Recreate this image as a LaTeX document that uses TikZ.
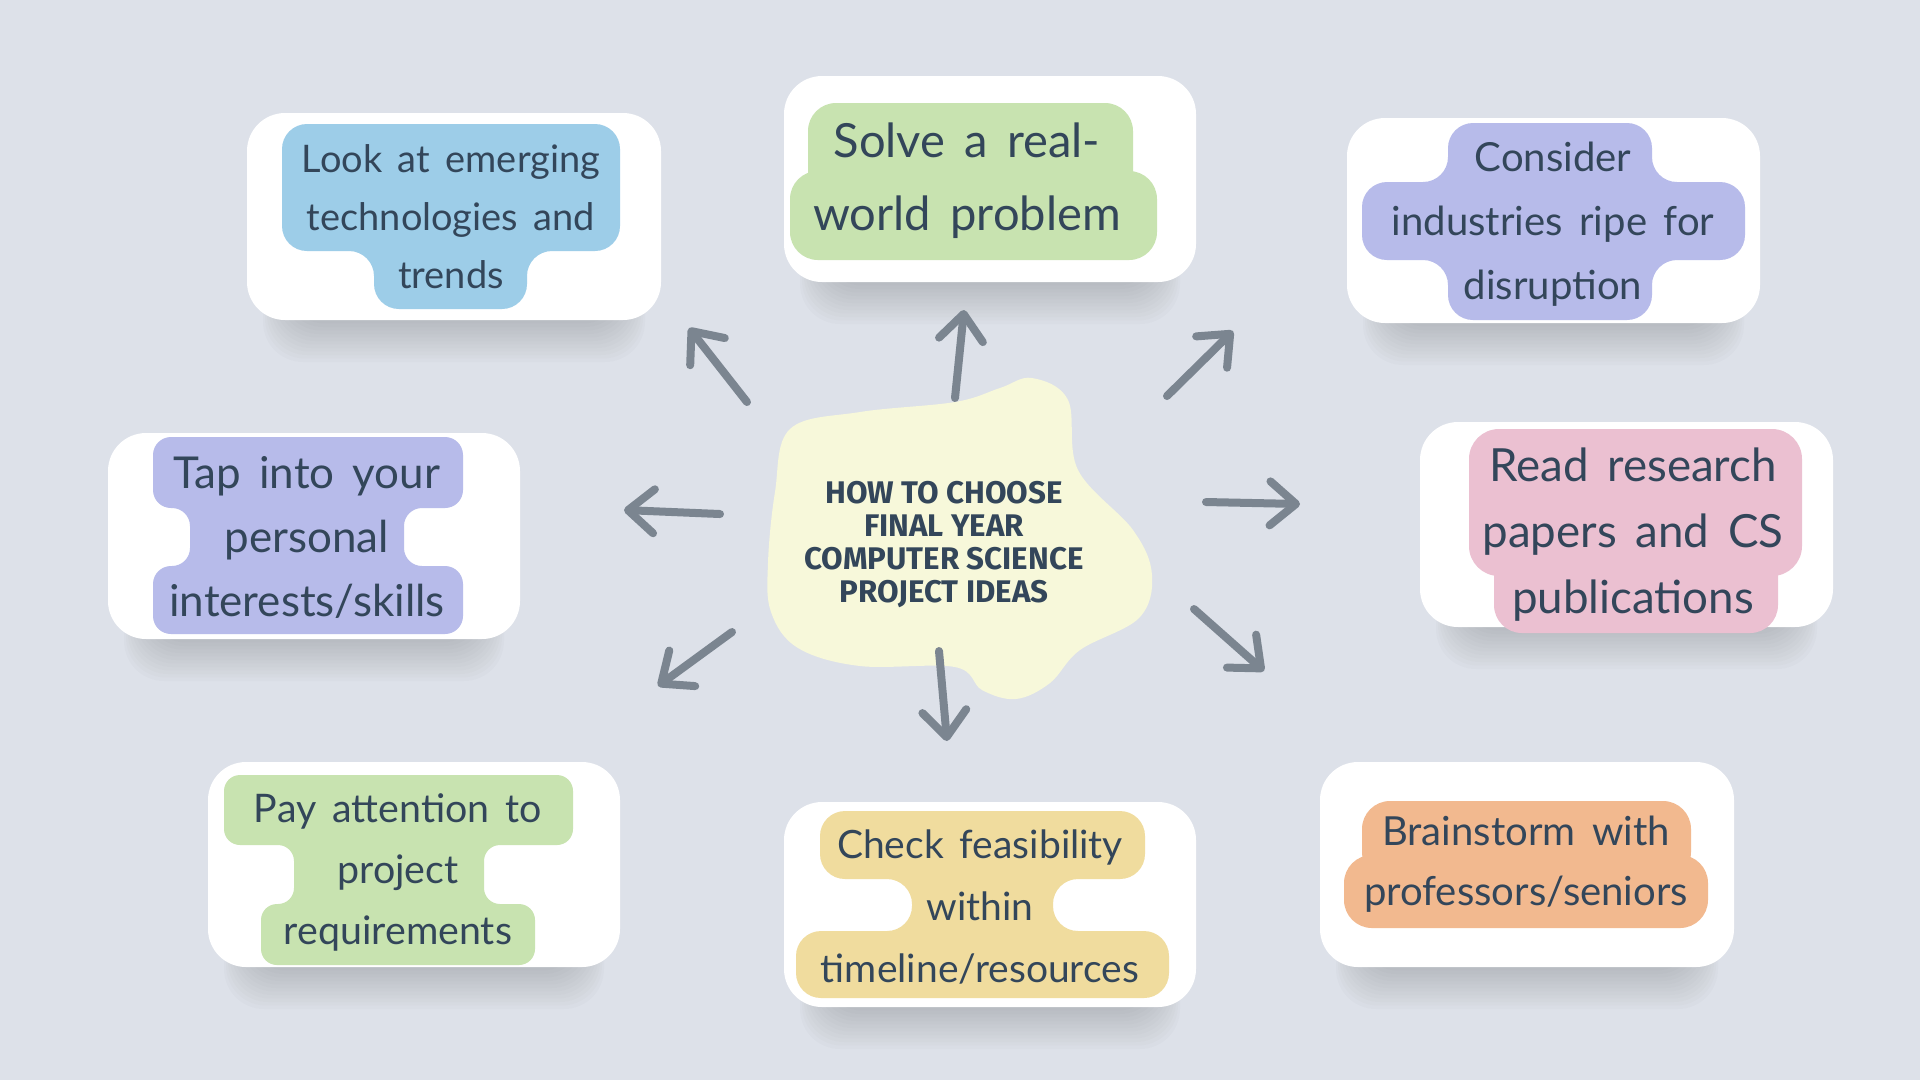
\documentclass[tikz,border=0pt]{standalone}
\usepackage{fontspec}
\setmainfont{Lato}[WordSpace=1.6]
\newfontfamily\titlefont{Fira Sans}
\usetikzlibrary{arrows.meta}
\definecolor{bg}{HTML}{DDE1E9}
\definecolor{ink}{HTML}{33465A}
\definecolor{arrowc}{HTML}{7B8590}
\definecolor{cblue}{HTML}{9DCDE8}
\definecolor{cgreen}{HTML}{C8E3B0}
\definecolor{cpurple}{HTML}{B7BBEA}
\definecolor{cpink}{HTML}{EBC0D1}
\definecolor{cyellow}{HTML}{F0DC9E}
\definecolor{corange}{HTML}{F2B98F}
\definecolor{cblob}{HTML}{F7F8DA}
\newcommand\whitebox[4]{%
  \foreach \k in {1,...,12}{%
    \fill[black!70!bg, opacity=0.018, rounded corners=4mm]
      (#1+40-\k*2, #2+40) rectangle (#3-40+\k*2, #4+\k*3.5);}
  \fill[white, rounded corners=3.8mm] (#1,#2) rectangle (#3,#4);}
\begin{document}
\begin{tikzpicture}[x=0.1mm, y=-0.1mm,
  lbl/.style={text=ink, align=center, inner sep=0pt},
  arr/.style={draw=arrowc, line width=0.8mm, line cap=round,
    -{Straight Barb[round, length=2.6mm, width=4.4mm]}}]
\fill[bg] (0,0) rectangle (1920,1080);
\useasboundingbox (0,0) rectangle (1920,1080);

% white cards
\whitebox{247}{113}{661}{320}
\whitebox{784}{76}{1196}{282}
\whitebox{1347}{118}{1760}{323}
\whitebox{108}{433}{520}{639}
\whitebox{1420}{422}{1833}{627}
\whitebox{208}{762}{620}{967}
\whitebox{784}{802}{1196}{1007}
\whitebox{1320}{762}{1734}{967}

% coloured shapes
\fill[cblue, rounded corners=2.5mm] (282,124) -- (620,124) -- (620,251) -- (527,251)
  -- (527,309) -- (374,309) -- (374,251) -- (282,251) -- cycle;
\fill[cgreen, rounded corners=2.8mm] (808,103) rectangle (1133,200);
\fill[cgreen, rounded corners=2.8mm] (790,171) rectangle (1157,260);
\fill[cpurple, rounded corners=2.5mm] (1448,123) -- (1652,123) -- (1652,182) -- (1745,182)
  -- (1745,260) -- (1652,260) -- (1652,320) -- (1448,320) -- (1448,260) -- (1362,260)
  -- (1362,182) -- (1448,182) -- cycle;
\fill[cpurple, rounded corners=1.8mm] (153,437) -- (463,437) -- (463,508) -- (404,508)
  -- (404,566) -- (463,566) -- (463,634) -- (153,634) -- (153,566) -- (190,566)
  -- (190,508) -- (153,508) -- cycle;
\fill[cpink, rounded corners=3mm] (1469,429) rectangle (1802,576);
\fill[cpink, rounded corners=2.8mm] (1494,540) rectangle (1778,633);
\fill[cgreen, rounded corners=1.6mm] (224,775) -- (573,775) -- (573,845) -- (484,845)
  -- (484,904) -- (535,904) -- (535,965) -- (261,965) -- (261,904) -- (294,904)
  -- (294,845) -- (224,845) -- cycle;
\fill[cyellow, rounded corners=2.5mm] (820,811) -- (1145,811) -- (1145,879) -- (1053,879)
  -- (1053,931) -- (1169,931) -- (1169,998) -- (796,998) -- (796,931) -- (912,931)
  -- (912,879) -- (820,879) -- cycle;
\fill[corange, rounded corners=2.8mm] (1362,801) rectangle (1691,880);
\fill[corange, rounded corners=2.8mm] (1344,855) rectangle (1708,928);

% central blob
\fill[cblob] plot[smooth cycle, tension=0.6] coordinates {
  (790,429) (860,412) (955,402) (1000,388) (1032,378) (1068,400) (1078,470)
  (1133,530) (1152,575) (1139,618) (1080,650) (1050,683) (1016,699) (982,690)
  (955,667) (860,666) (798,648) (771,612) (768,563) (775,492)};

% texts
\node[lbl, font=\titlefont\bfseries\fontsize{8.9pt}{3.3mm}\selectfont] (c) at (944,545)
  {HOW TO CHOOSE\\FINAL YEAR\\COMPUTER SCIENCE\\PROJECT IDEAS};
\node[lbl, font=\fontsize{10.8pt}{5.8mm}\selectfont] (n1) at (451,217)
  {Look at emerging\\technologies and\\trends};
\node[lbl, font=\fontsize{13.4pt}{7.3mm}\selectfont] (n2) at (967,181)
  {Solve a real-\\world problem};
\node[lbl, font=\fontsize{11.4pt}{6.4mm}\selectfont] (n3) at (1553,224)
  {Consider\\industries ripe for\\disruption};
\node[lbl, font=\fontsize{12.5pt}{6.4mm}\selectfont] (n4) at (307,537)
  {Tap into your\\personal\\interests/skills};
\node[lbl, font=\fontsize{13pt}{6.6mm}\selectfont] (n5) at (1633,535)
  {Read research\\papers and CS\\publications};
\node[lbl, font=\fontsize{11.2pt}{6.1mm}\selectfont] (n6) at (398,872)
  {Pay attention to\\project\\requirements};
\node[lbl, font=\fontsize{11.1pt}{6.2mm}\selectfont] (n7) at (980,907)
  {Check feasibility\\within\\timeline/resources};
\node[lbl, font=\fontsize{11.4pt}{6.0mm}\selectfont] (n8) at (1526,864)
  {Brainstorm with\\professors/seniors};

% arrows
\coordinate (a1s) at (747,402); \coordinate (a1e) at (689,328);
\coordinate (a2s) at (955,398); \coordinate (a2e) at (964,310);
\coordinate (a3s) at (1167,396); \coordinate (a3e) at (1233,331);
\coordinate (a4s) at (720,514); \coordinate (a4e) at (624,510);
\coordinate (a5s) at (1206,502); \coordinate (a5e) at (1300,504);
\coordinate (a6s) at (732,632); \coordinate (a6e) at (658,686);
\coordinate (a7s) at (939,651); \coordinate (a7e) at (947,741);
\coordinate (a8s) at (1194,609); \coordinate (a8e) at (1264,671);
\foreach \i in {1,...,8} \draw[arr] (a\i s) -- (a\i e);
\end{tikzpicture}
\end{document}
